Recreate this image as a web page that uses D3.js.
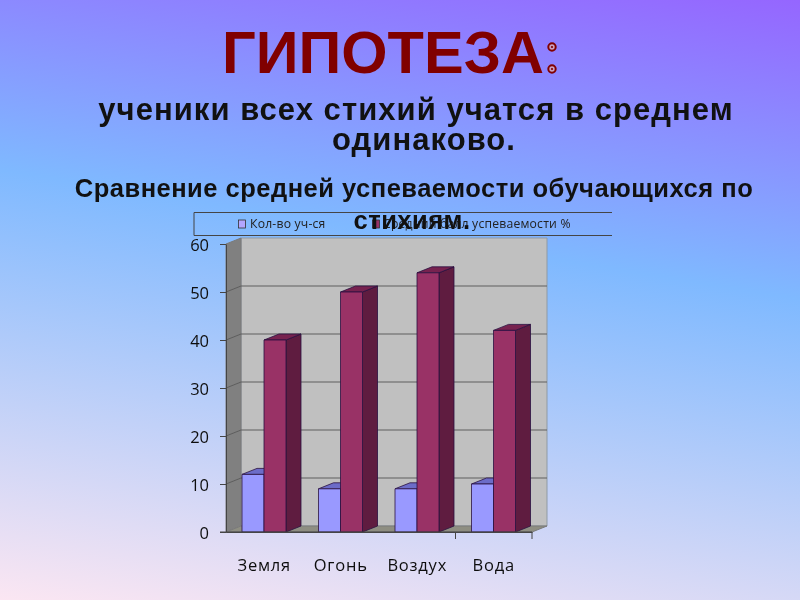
<!DOCTYPE html>
<html><head><meta charset="utf-8">
<script src="https://cdn.jsdelivr.net/npm/d3@7/dist/d3.min.js"></script>
<style>html,body{margin:0;padding:0;overflow:hidden}svg{display:block}</style>
</head><body><svg id="c" width="800" height="600"></svg>
<script>
const categories = ["Земля","Огонь","Воздух","Вода"];
const seriesNames = ["Кол-во уч-ся","Средний балл успеваемости %"];
const students = [12,9,9,10];
const performance = [40,50,54,42];
const yTicks = [0,10,20,30,40,50,60];
const titleText = "ГИПОТЕЗА";
const subtitleLines = ["ученики всех стихий учатся в среднем","одинаково."];
const chartTitleLines = ["Сравнение средней успеваемости обучающихся по","стихиям."];

const svg = d3.select("#c");
const defs = svg.append("defs");
const bg = defs.append("linearGradient").attr("id","bg")
  .attr("gradientUnits","userSpaceOnUse").attr("x1",800).attr("y1",0).attr("x2",685).attr("y2",711);
[[0,"#9566ff"],[0.41,"#7fb9ff"],[1,"#fbe6f2"]].forEach(s=>bg.append("stop").attr("offset",s[0]).attr("stop-color",s[1]));
const blur = defs.append("filter").attr("id","soft");
blur.append("feGaussianBlur").attr("stdDeviation",0.5);
svg.append("rect").attr("width",800).attr("height",600).attr("fill","url(#bg)");

const dx = 15, dy = -6;
const x = d3.scaleBand().domain(categories).range([226,532]);
const y = d3.scaleLinear().domain([0,60]).range([532,244]);
const g = svg.append("g").attr("filter","url(#soft)");
const poly = (pts,fill,stroke,w)=>g.append("polygon").attr("points",pts.map(p=>p.join(",")).join(" "))
  .attr("fill",fill).attr("stroke",stroke).attr("stroke-width",w);

// walls
const [x0,x1] = x.range();
poly([[x0+dx,y(60)+dy],[x1+dx,y(60)+dy],[x1+dx,y(0)+dy],[x0+dx,y(0)+dy]],"#c0c0c0","#8f9aa5",1);
poly([[x0,y(60)],[x0+dx,y(60)+dy],[x0+dx,y(0)+dy],[x0,y(0)]],"#808080","#7a7a7a",1);
poly([[x0,y(0)],[x0+dx,y(0)+dy],[x1+dx,y(0)+dy],[x1,y(0)]],"#8e8e82","#7a7a7a",1);
// gridlines
yTicks.filter(t=>t>0&&t<60).forEach(t=>{
  g.append("path").attr("d",`M${x0},${y(t)}L${x0+dx},${y(t)+dy}H${x1+dx}`).attr("fill","none").attr("stroke","#5e5e5e").attr("stroke-width",1);
});
// bars
const barW = 22;
const offset = 16;
function bar(cat,v,i,front,top,side){
  const l = x(cat)+offset+i*barW, r = l+barW, t = y(v), b = y(0);
  const s = "#2a1040";
  poly([[r,t],[r+dx,t+dy],[r+dx,b+dy],[r,b]],side,s,0.8);
  poly([[l,t],[l+dx,t+dy],[r+dx,t+dy],[r,t]],top,s,0.8);
  poly([[l,t],[r,t],[r,b],[l,b]],front,s,0.8);
}
categories.forEach((c,k)=>{
  bar(c,students[k],0,"#9999ff","#6c6cc8","#5a5aa0");
  bar(c,performance[k],1,"#993366","#772350","#5f1f3f");
});
// axes
const axisL = g.append("g").attr("transform",`translate(${x0},0)`)
  .call(d3.axisLeft(y).tickValues(yTicks).tickSize(6).tickPadding(11).tickSizeOuter(0));
axisL.select(".domain").attr("stroke","#444");
axisL.selectAll(".tick line").attr("stroke","#444");
axisL.selectAll("text").attr("font-family","'Open Sans'").attr("font-size",16.5).attr("fill","#111").attr("dy","0.38em");
const axisB = g.append("g").attr("transform",`translate(0,${y(0)})`)
  .call(d3.axisBottom(x).tickSize(0).tickPadding(27));
axisB.select(".domain").attr("stroke","#444");
axisB.selectAll("text").attr("font-family","'Open Sans'").attr("font-size",16.5).attr("fill","#111").attr("letter-spacing",0.8);
g.append("line").attr("x1",x0-6).attr("x2",x1).attr("y1",y(0)).attr("y2",y(0)).attr("stroke","#444");
g.selectAll(".bt").data(categories.slice(-1).map(c=>x(c)).concat([x1])).join("line").attr("class","bt")
  .attr("x1",d=>d).attr("x2",d=>d).attr("y1",y(0)).attr("y2",y(0)+7).attr("stroke","#444");

// legend
g.append("path").attr("d","M612,212.5H194V235.5H612").attr("fill","none").attr("stroke","#444").attr("stroke-width",1);
const legendItems = [
  {name:seriesNames[0],c:"#b3a6ff",sx:238.5,tx:250},
  {name:seriesNames[1],c:"#993366",sx:372.5,tx:383}];
legendItems.forEach(d=>{
  g.append("rect").attr("x",d.sx).attr("y",220).attr("width",7).attr("height",8).attr("fill",d.c).attr("stroke","#333").attr("stroke-width",.8);
  g.append("text").attr("x",d.tx).attr("y",228).text(d.name).attr("font-family","'Open Sans'").attr("font-size",12.2).attr("fill","#222").attr("letter-spacing",0.2);
});

// titles
const t = svg.append("g").attr("text-anchor","middle").attr("font-family","'Liberation Sans'").attr("font-weight","bold");
t.append("text").attr("x",383).attr("y",72.5).attr("font-size",59.5).attr("fill","#800000").text(titleText);
[47,69].forEach(cy=>{
  svg.append("circle").attr("cx",552).attr("cy",cy).attr("r",3.7).attr("fill","#c9a0c0").attr("stroke","#800000").attr("stroke-width",2);
  svg.append("circle").attr("cx",552).attr("cy",cy).attr("r",1.1).attr("fill","#800000");
});
const subX = [416,424];
subtitleLines.forEach((s,i)=>t.append("text").attr("x",subX[i]).attr("y",120+i*29.5).attr("font-size",31).attr("letter-spacing",1.05).attr("fill","#111").text(s));
const capX = [414,412];
chartTitleLines.forEach((s,i)=>t.append("text").attr("x",capX[i]).attr("y",197+i*32).attr("font-size",25.5).attr("letter-spacing",0.5).attr("fill","#111").text(s));
</script></body></html>
